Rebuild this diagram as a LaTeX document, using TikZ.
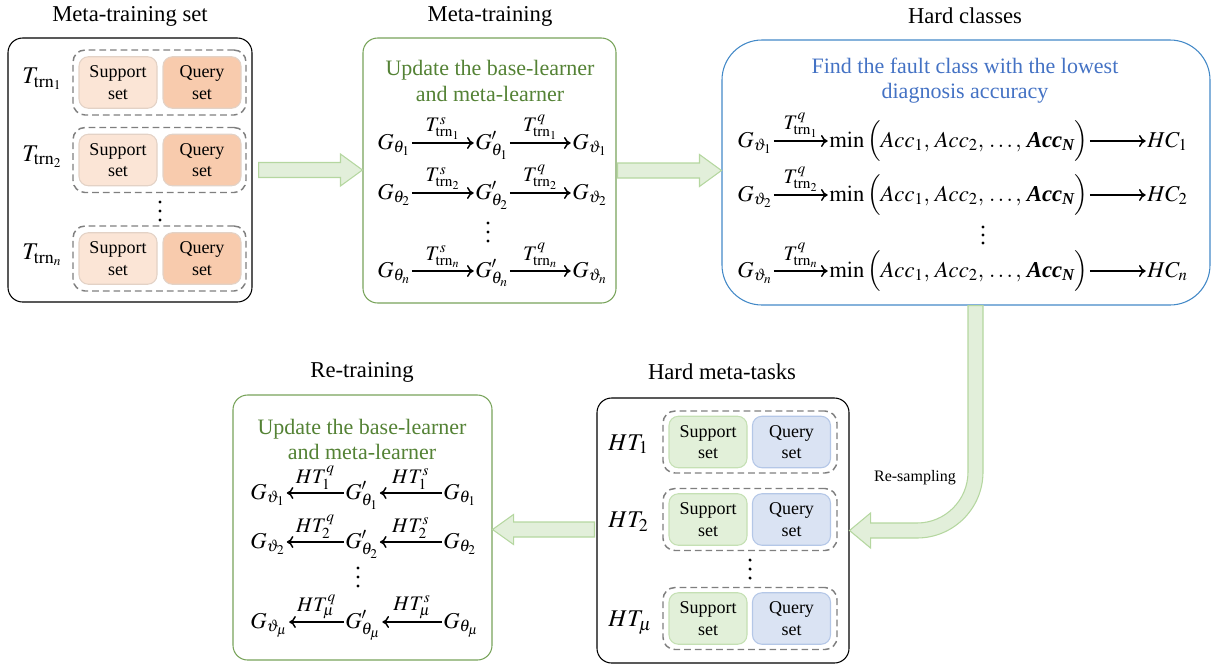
\documentclass[tikz,border=0pt]{standalone}
\usepackage{amsmath}
\usepackage{mathptmx}
\usepackage[no-math]{fontspec}
\setmainfont{Liberation Serif}
\usetikzlibrary{calc,fit,arrows.meta}

% larger sub/superscripts for the formula sizes used here
\DeclareMathSizes{18}{18}{13.5}{10}
\DeclareMathSizes{17}{17}{12.5}{10}
\DeclareMathSizes{15.5}{15.5}{11.5}{9}

\definecolor{arrowfill}{HTML}{E2EFDA}
\definecolor{arrowline}{HTML}{B5D7A0}
\definecolor{greenline}{HTML}{78A35A}
\definecolor{greentext}{HTML}{548235}
\definecolor{blueline}{HTML}{4389C7}
\definecolor{bluetext}{HTML}{4472C4}
\definecolor{peachlight}{HTML}{FBE5D6}
\definecolor{peach}{HTML}{F8CBAD}
\definecolor{peachline}{HTML}{E3D2C6}
\definecolor{greenbox}{HTML}{E2F0D9}
\definecolor{greenboxline}{HTML}{C5E0B4}
\definecolor{bluebox}{HTML}{DAE3F3}
\definecolor{blueboxline}{HTML}{B4C7E7}
\definecolor{dashgray}{HTML}{7F7F7F}

\tikzset{
  panel/.style={draw=black, line width=0.8pt, rounded corners=11pt, inner sep=0pt},
  greenpanel/.style={panel, draw=greenline},
  bluepanel/.style={panel, draw=blueline, rounded corners=30pt},
  taskgroup/.style={draw=dashgray, dash pattern=on 5pt off 3pt, line width=1.1pt, rounded corners=9pt, inner sep=0pt},
  setbox/.style={rounded corners=7pt, line width=0.8pt, minimum width=58.5pt, minimum height=38.6pt,
    align=center, font=\fontsize{13.5}{16}\selectfont, inner sep=0pt},
  supA/.style={setbox, fill=peachlight, draw=peachline},
  qryA/.style={setbox, fill=peach, draw=peachline},
  supB/.style={setbox, fill=greenbox, draw=greenboxline},
  qryB/.style={setbox, fill=bluebox, draw=blueboxline},
  title/.style={font=\fontsize{17}{20}\selectfont},
  note/.style={align=center, font=\fontsize{16.5}{19}\selectfont},
  expr/.style={anchor=base west, inner sep=0pt, font=\fontsize{17}{20}\selectfont},
  bigexpr/.style={anchor=base west, inner sep=0pt, font=\fontsize{18}{21}\selectfont},
  lab/.style={font=\fontsize{15.5}{18}\selectfont, inner sep=0pt, above, yshift=2pt},
  flow/.style={line width=1.1pt, -{To[length=5pt,width=9pt]}, shorten <=1pt, shorten >=1pt},
  fat/.style={fill=arrowfill, draw=arrowline, line width=0.8pt, line join=miter},
  dot/.style={circle, fill=black, inner sep=0pt, minimum size=2.6pt},
}

\begin{document}
\begin{tikzpicture}[x=0.75pt,y=-0.75pt]
\useasboundingbox (0,0) rectangle (1214,668);

% headings
\node[title] (t1) at (130,16) {Meta-training set};
\node[title] (t2) at (490,16) {Meta-training};
\node[title] (t3) at (965,16) {Hard classes};
\node[title] (t4) at (362,372) {Re-training};
\node[title] (t5) at (722,372) {Hard meta-tasks};

% panels
\node[panel, fit={(8,38) (252,302)}] (box1) {};
\node[greenpanel, fit={(363,38) (616,303)}] (box2) {};
\node[bluepanel, fit={(722,40) (1210,305)}] (box3) {};
\node[panel, fit={(597,398) (849,663)}] (box4) {};
\node[greenpanel, fit={(233,395) (492,660)}] (box5) {};

% meta-training tasks
\foreach \i/\y/\k in {1/82.5/1,2/160/2,3/258.5/n}{
  \node[taskgroup, fit={(73,\y-32.5) (246,\y+32.5)}] (grpA\i) {};
  \node[supA] (supA\i) at (118,\y) {Support\\set};
  \node[qryA] (qryA\i) at (202,\y) {Query\\set};
  \node[bigexpr] (tA\i) at (22,\y+1) {$T_{\mathrm{trn}_{\k}}$};
}
\foreach \d [count=\j] in {202,211,220} \node[dot] (dotA\j) at (160,\d) {};

% meta-training updates
\node[note, text=greentext] (noteB) at (490,81) {Update the base-learner\\and meta-learner};
\foreach \i/\y/\k in {1/149/1,2/199/2,3/277/n}{
  \node[expr] (ga\i) at (377,\y) {$G_{\theta_{\k}}$};
  \node[expr] (gb\i) at (475,\y) {$G'_{\theta_{\k}}$};
  \node[expr] (gc\i) at (572,\y) {$G_{\vartheta_{\k}}$};
  \draw[flow] ([yshift=4.5pt]ga\i.base east) -- ([yshift=4.5pt]gb\i.base west)
    node[lab,midway] {$T^{s}_{\mathrm{trn}_{\k}}$};
  \draw[flow] ([yshift=4.5pt]gb\i.base east) -- ([yshift=4.5pt]gc\i.base west)
    node[lab,midway] {$T^{q}_{\mathrm{trn}_{\k}}$};
}
\foreach \d [count=\j] in {223,232,241} \node[dot] (dotB\j) at (488,\d) {};

% hard classes
\node[note, text=bluetext] (noteC) at (965,80.5) {Find the fault class with the lowest\\diagnosis accuracy};
\foreach \i/\y/\k in {1/147/1,2/201/2,3/277/n}{
  \node[expr] (hg\i) at (737,\y) {$G_{\vartheta_{\k}}$};
  \node[expr] (hm\i) at (829,\y) {$\min\Big(Acc_1,\, Acc_2,\, \ldots,\, \text{\bfseries\itshape Acc}_{\text{\bfseries\itshape N}}\Big)$};
  \node[expr] (hc\i) at (1147,\y) {$HC_{\k}$};
  \draw[flow] ([yshift=4.5pt]hg\i.base east) -- ([yshift=4.5pt]hm\i.base west)
    node[lab,midway] {$T^{q}_{\mathrm{trn}_{\k}}$};
  \draw[flow] ([yshift=4.5pt]hm\i.base east) -- ([yshift=4.5pt]hc\i.base west);
}
\foreach \d [count=\j] in {227,235,243} \node[dot] (dotC\j) at (983,\d) {};

% hard meta-tasks
\foreach \i/\y/\k in {1/442/1,2/519.5/2,3/618.5/\mu}{
  \node[taskgroup, fit={(663,\y-31) (837,\y+31)}] (grpB\i) {};
  \node[supB] (supB\i) at (708,\y) {Support\\set};
  \node[qryB] (qryB\i) at (791.5,\y) {Query\\set};
  \node[bigexpr] (tB\i) at (608,\y+8) {$HT_{\k}$};
}
\foreach \d [count=\j] in {560,569,578} \node[dot] (dotD\j) at (750,\d) {};

% re-training updates
\node[note, text=greentext] (noteE) at (362,439.5) {Update the base-learner\\and meta-learner};
\foreach \i/\y/\k in {1/499/1,2/548/2,3/628/\mu}{
  \node[expr] (ra\i) at (250,\y) {$G_{\vartheta_{\k}}$};
  \node[expr] (rb\i) at (345,\y) {$G'_{\theta_{\k}}$};
  \node[expr] (rc\i) at (443,\y) {$G_{\theta_{\k}}$};
  \draw[flow] ([yshift=4.5pt]rb\i.base west) -- ([yshift=4.5pt]ra\i.base east)
    node[lab,midway] {$HT^{q}_{\k}$};
  \draw[flow] ([yshift=4.5pt]rc\i.base west) -- ([yshift=4.5pt]rb\i.base east)
    node[lab,midway] {$HT^{s}_{\k}$};
}
\foreach \d [count=\j] in {568,577,586} \node[dot] (dotE\j) at (358,\d) {};

% block arrows between the stages
\coordinate (a1s) at ($(box1.east)+(6,0)$);
\coordinate (a1t) at (box2.west |- a1s);
\draw[fat] ($(a1s)+(0,-7.5)$) -- ($(a1t)+(-22,-7.5)$) -- ($(a1t)+(-22,-16)$) -- (a1t)
  -- ($(a1t)+(-22,16)$) -- ($(a1t)+(-22,7.5)$) -- ($(a1s)+(0,7.5)$) -- cycle;

\coordinate (a2s) at ($(box2.east)+(1,0)$);
\coordinate (a2t) at (box3.west |- a2s);
\draw[fat] ($(a2s)+(0,-7.5)$) -- ($(a2t)+(-22,-7.5)$) -- ($(a2t)+(-22,-16)$) -- (a2t)
  -- ($(a2t)+(-22,16)$) -- ($(a2t)+(-22,7.5)$) -- ($(a2s)+(0,7.5)$) -- cycle;

\coordinate (a5s) at ($(box4.west)+(-2,-1)$);
\coordinate (a5t) at (box5.east |- a5s);
\draw[fat] ($(a5s)+(0,-7.5)$) -- ($(a5t)+(21,-7.5)$) -- ($(a5t)+(21,-15)$) -- (a5t)
  -- ($(a5t)+(21,15)$) -- ($(a5t)+(21,7.5)$) -- ($(a5s)+(0,7.5)$) -- cycle;

% curved re-sampling arrow
\coordinate (rsTop) at ($(box3.south)+(9.5,0)$);
\coordinate (rsTip) at (box4.east);
\draw[fat] ($(rsTop)+(-7.5,0)$) -- ($(rsTop |- rsTip)+(-7.5,-58.5)$)
  arc[start angle=0,end angle=90,radius=51]
  -- ($(rsTip)+(21,-7.5)$) -- ($(rsTip)+(21,-17.5)$) -- (rsTip)
  -- ($(rsTip)+(21,17.5)$) -- ($(rsTip)+(21,7.5)$)
  -- ($(rsTop |- rsTip)+(-58.5,7.5)$)
  arc[start angle=90,end angle=0,radius=66]
  -- ($(rsTop)+(7.5,0)$) -- cycle;
\node[font=\fontsize{12}{14}\selectfont] (rsLabel) at (915,478) {Re-sampling};

\end{tikzpicture}
\end{document}
